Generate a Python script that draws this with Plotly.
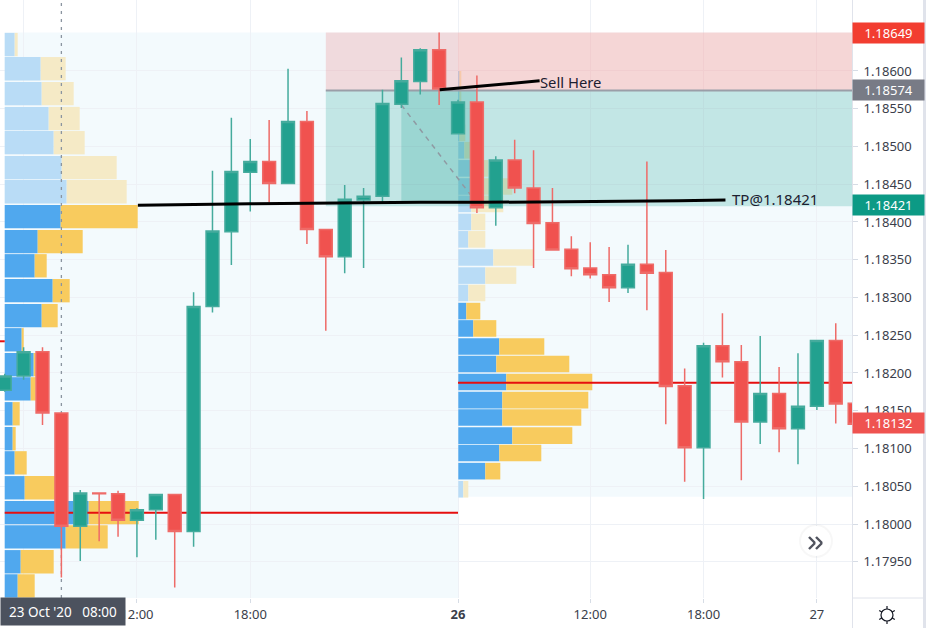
import math
import plotly.graph_objects as go

# ---------- data ----------
bar_index = list(range(-24, 22))
open_ = [1.18177,1.18196,1.18228,1.18147,1.17997,1.18041,1.18040,1.18005,1.18019,1.18039,1.17990,1.18288,
         1.18387,1.18466,1.18480,1.18451,1.18533,1.18390,1.18354,1.18429,1.18434,1.18556,1.18586,1.18628,
         1.18517,1.18559,1.18419,1.18482,1.18445,1.18399,1.18364,1.18339,1.18330,1.18313,1.18344,1.18333,
         1.18183,1.18101,1.18236,1.18215,1.18135,1.18173,1.18126,1.18156,1.18243,1.18160]
high = [1.18199,1.18234,1.18234,1.18148,1.18045,1.18042,1.18044,1.18021,1.18040,1.18040,1.18307,1.18468,
        1.18538,1.18510,1.18535,1.18603,1.18547,1.18391,1.18449,1.18445,1.18575,1.18618,1.18630,1.18651,
        1.18562,1.18594,1.18487,1.18509,1.18495,1.18445,1.18381,1.18373,1.18367,1.18370,1.18480,1.18363,
        1.18206,1.18240,1.18279,1.18237,1.18249,1.18208,1.18226,1.18243,1.18266,1.18160]
low = [1.18175,1.18191,1.18131,1.17929,1.17951,1.17977,1.17983,1.17956,1.17979,1.17916,1.17970,1.18280,
       1.18343,1.18414,1.18426,1.18450,1.18371,1.18256,1.18332,1.18339,1.18426,1.18551,1.18569,1.18555,
       1.18517,1.18412,1.18395,1.18438,1.18339,1.18362,1.18328,1.18325,1.18294,1.18306,1.18283,1.18132,
       1.18056,1.18033,1.18194,1.18058,1.18106,1.18095,1.18079,1.18151,1.18133,1.18131]
close = [1.18196,1.18228,1.18147,1.17997,1.18041,1.18040,1.18005,1.18019,1.18039,1.17990,1.18288,1.18388,
         1.18467,1.18480,1.18451,1.18533,1.18390,1.18354,1.18430,1.18434,1.18557,1.18587,1.18628,1.18576,
         1.18559,1.18419,1.18482,1.18445,1.18398,1.18363,1.18338,1.18330,1.18313,1.18344,1.18332,1.18182,
         1.18101,1.18236,1.18215,1.18135,1.18173,1.18126,1.18156,1.18243,1.18159,1.18132]

left_rows = [1.18635,1.18603,1.18570,1.18537,1.18505,1.18472,1.18440,1.18407,1.18374,1.18342,1.18309,1.18276,
             1.18244,1.18211,1.18179,1.18146,1.18113,1.18081,1.18048,1.18015,1.17983,1.17950,1.17918]
left_blue = [10,36,37,44,49,57,62,56,33,30,48,37,17,29,26,8,8,10,20,84,61,16,13]
left_total = [13,61,69,75,80,112,122,133,78,42,65,53,19,31,31,15,11,22,52,134,103,49,30]

right_rows = [1.18046,1.18070,1.18094,1.18117,1.18141,1.18164,1.18188,1.18212,1.18235,1.18259,1.18282,1.18306,
              1.18329,1.18353,1.18377,1.18400,1.18424,1.18447,1.18471,1.18495,1.18518,1.18542,1.18565,1.18589]
right_blue = [5,27,41,54,44,44,48,38,41,15,8,10,27,35,10,13,13,12,12,6,1,1,1,1]
right_total = [10,42,83,114,123,130,134,111,86,38,22,27,58,75,27,27,45,54,30,12,7,3,3,3]

left_poc = 1.18015
right_poc = 1.18187
prev_poc = 1.18242
entry = 1.18574
stop = 1.18649
target = 1.18421
last = 1.18132

tp_x = [-16.95, -11, -2, 1.15, 11.7, 14.16]
tp_y = [1.18422, 1.18424, 1.18426, 1.18426, 1.18428, 1.18429]
sell_x = [-0.97, 4.32]
sell_y = [1.18575, 1.18587]
dash_x = [-3, 1]
dash_y = [1.18555, 1.18425]

price_ticks = [1.1795,1.18,1.1805,1.181,1.1815,1.182,1.1825,1.183,1.1835,1.184,1.1845,1.185,1.1855,1.186]
time_ticks = [-23, -17, -11, 0, 7, 13, 19]
time_labels = ["", "12:00", "18:00", "<b>26</b>", "12:00", "18:00", "27"]

# ---------- layout constants ----------
W, H = 926, 632
PW, PH = 852, 598
X_RANGE = [-24.25, 20.86]
Y_RANGE = [1.17902, 1.18694]
FONT = "Noto Sans"
GREEN, RED = "#22a18f", "#f0524f"
BLUE, YEL = "#50a8ee", "#f8cb5e"
BLUE_F, YEL_F = "#b9dcf6", "#f5eac6"
BG = "rgba(30,160,225,0.055)"

px = lambda v: v / PW
py = lambda v: 1 - v / PH

fig = go.Figure()


def profile(rows, blue, total, xaxis, thick, solid):
    blue_c = [BLUE if solid(i) else BLUE_F for i in range(len(rows))]
    yel_c = [YEL if solid(i) else YEL_F for i in range(len(rows))]
    fig.add_bar(y=rows, x=blue, orientation="h", width=thick, marker=dict(color=blue_c, line_width=0),
                xaxis=xaxis, yaxis="y", hoverinfo="skip", showlegend=False)
    fig.add_bar(y=rows, x=[t - b for t, b in zip(total, blue)], base=blue, orientation="h", width=thick,
                marker=dict(color=yel_c, line_width=0), xaxis=xaxis, yaxis="y", hoverinfo="skip", showlegend=False)


profile(left_rows, left_blue, left_total, "x2", 0.000309, lambda i: i >= 7)
profile(right_rows, right_blue, right_total, "x3", 0.000220, lambda i: 1 <= i <= 10)


def rect(x0, x1, y0, y1, color):
    fig.add_scatter(x=[x0, x1, x1, x0, x0], y=[y0, y0, y1, y1, y0], mode="lines", fill="toself",
                    fillcolor=color, line=dict(width=0), xaxis="x4", yaxis="y", hoverinfo="skip", showlegend=False)


def line(x, y, color, width, xaxis="x4", dash=None):
    fig.add_scatter(x=x, y=y, mode="lines", line=dict(color=color, width=width, dash=dash),
                    xaxis=xaxis, yaxis="y", hoverinfo="skip", showlegend=False)


rect(-7, 0, entry, 1.18651, "rgba(225,60,65,0.17)")
rect(0, X_RANGE[1], entry, 1.18651, "rgba(255,70,60,0.2)")
rect(-7, X_RANGE[1], target, entry, "rgba(0,150,136,0.2)")
rect(-3, 1, 1.18428, entry, "rgba(0,150,136,0.2)")
line([-7, X_RANGE[1]], [entry, entry], "#9a9ea8", 2)
line(dash_x, dash_y, "#8f9aa3", 1.5, dash="5px,5px")
line([-24, 0], [left_poc, left_poc], "#e60f0f", 2)
line([0, X_RANGE[1]], [right_poc, right_poc], "#e60f0f", 2)
line([X_RANGE[0], -24], [prev_poc, prev_poc], "#e60f0f", 2)
line([-21, -21], Y_RANGE, "#8b95a0", 1.3, dash="3px,5px")

fig.add_trace(go.Candlestick(
    x=bar_index, open=open_, high=high, low=low, close=close, xaxis="x5", yaxis="y",
    whiskerwidth=0, showlegend=False, hoverinfo="skip",
    increasing=dict(fillcolor=GREEN, line=dict(color="#45ab9d", width=1.5)),
    decreasing=dict(fillcolor=RED, line=dict(color="#ee6b68", width=1.5)),
))

line(tp_x, tp_y, "#000000", 3, xaxis="x5")
line(sell_x, sell_y, "#000000", 3, xaxis="x5")

hidden = dict(overlaying="x", visible=False, fixedrange=True)
shapes = [
    dict(type="rect", xref="x", yref="y", x0=-24, x1=0, y0=Y_RANGE[0], y1=1.18651, layer="below",
         fillcolor=BG, line_width=0),
    dict(type="rect", xref="x", yref="y", x0=0, x1=X_RANGE[1], y0=1.18036, y1=1.18651, layer="below",
         fillcolor=BG, line_width=0),
    dict(type="rect", xref="paper", yref="paper", x0=px(923), x1=px(926), y0=py(0), y1=py(628),
         fillcolor="#e0e3eb", line_width=0),
    dict(type="line", xref="paper", yref="paper", x0=px(852), x1=px(923), y0=py(598), y1=py(598),
         line=dict(color="#e0e3eb", width=1)),
    dict(type="line", xref="paper", yref="paper", x0=px(852.5), x1=px(852.5), y0=py(598), y1=py(628),
         line=dict(color="#e0e3eb", width=1)),
    # scroll button
    dict(type="circle", xref="paper", yref="paper", x0=px(799), x1=px(833), y0=py(524), y1=py(558),
         fillcolor="rgba(0,0,0,0.03)", line_width=0),
    dict(type="circle", xref="paper", yref="paper", x0=px(801), x1=px(831), y0=py(526), y1=py(556),
         fillcolor="#ffffff", line_width=0),
    # gear
    dict(type="circle", xref="paper", yref="paper", x0=px(881), x1=px(893), y0=py(609), y1=py(621),
         fillcolor="rgba(0,0,0,0)", line=dict(color="#131722", width=1.2)),
]
for dx in (0, 7):
    for a, b in (((809, 537), (815, 543)), ((815, 543), (809, 549))):
        shapes.append(dict(type="line", xref="paper", yref="paper",
                           x0=px(a[0] + dx), x1=px(b[0] + dx), y0=py(a[1]), y1=py(b[1]),
                           line=dict(color="#50535e", width=2.4)))
for k in range(6):
    a = math.pi / 6 + k * math.pi / 3
    shapes.append(dict(type="line", xref="paper", yref="paper",
                       x0=px(887 + 6 * math.cos(a)), x1=px(887 + 9 * math.cos(a)),
                       y0=py(615 + 6 * math.sin(a)), y1=py(615 + 9 * math.sin(a)),
                       line=dict(color="#131722", width=1.2)))

anns = [
    dict(x=4.32, y=1.18586, xref="x5", yref="y", text="Sell Here", showarrow=False, xanchor="left",
         yanchor="middle", xshift=-2, font=dict(family=FONT, size=14.8, color="#1c2030")),
    dict(x=14.53, y=1.18431, xref="x5", yref="y", text="TP@1.18421", showarrow=False, xanchor="left",
         yanchor="middle", xshift=-2, font=dict(family=FONT, size=15, color="#1c2030")),
    dict(x=0, y=py(611.8), xref="paper", yref="paper", text="23 Oct '20   08:00", showarrow=False, xanchor="left",
         yanchor="middle", width=124, height=27, align="center", borderpad=0, bgcolor="#4c525e",
         font=dict(family=FONT, size=13.5, color="#ffffff")),
]
for value, color in [(stop, "#f23d30"), (entry, "#787b86"), (target, "#0c9a85"), (last, "#ef5350")]:
    anns.append(dict(x=1, y=value, xref="paper", yref="y", text=f"{value:.5f}", showarrow=False, xanchor="left",
                     yanchor="middle", width=71, height=19.5, align="center", borderpad=0, bgcolor=color,
                     yshift=1, font=dict(family=FONT, size=13, color="#ffffff")))

fig.update_layout(
    width=W, height=H, margin=dict(l=0, r=W - PW, t=0, b=H - PH), paper_bgcolor="#ffffff", plot_bgcolor="#ffffff",
    barmode="overlay", boxgap=0.32, boxgroupgap=0, showlegend=False, dragmode=False,
    shapes=shapes, annotations=anns,
    xaxis=dict(range=X_RANGE, tickmode="array", tickvals=time_ticks, ticktext=time_labels, showgrid=True,
               gridcolor="#eef1f6", gridwidth=1, ticks="outside", ticklen=4, tickcolor="#d6dce5", zeroline=False,
               showline=False, tickfont=dict(family=FONT, size=13, color="#3a3e4a"), rangeslider=dict(visible=False),
               fixedrange=True),
    xaxis2=dict(range=[-4.7, PW - 4.7], **hidden),
    xaxis3=dict(range=[-458.3, PW - 458.3], **hidden),
    xaxis4=dict(range=X_RANGE, **hidden),
    xaxis5=dict(range=X_RANGE, rangeslider=dict(visible=False), **hidden),
    yaxis=dict(range=Y_RANGE, side="right", tickmode="array", tickvals=price_ticks, tickformat=".5f", showgrid=True,
               gridcolor="#eef1f6", gridwidth=1, ticks="outside", ticklen=5, tickcolor="#d6dce5", zeroline=False,
               showline=True, linecolor="#e0e3eb", linewidth=1, ticklabelstandoff=3,
               tickfont=dict(family=FONT, size=13, color="#3a3e4a"), fixedrange=True),
)

fig.write_html("out.html", config=dict(displayModeBar=False),
               post_script="document.body.style.margin='0';")
